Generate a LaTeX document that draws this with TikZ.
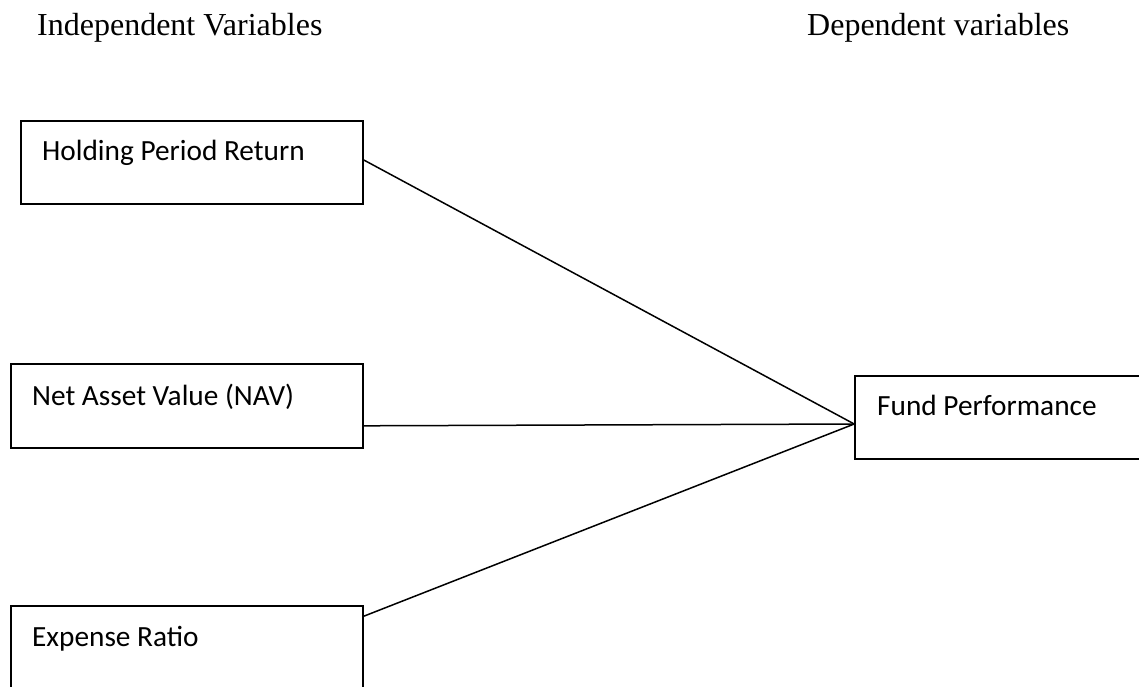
\documentclass[tikz,border=0pt]{standalone}
\usepackage{fontspec}
\setmainfont{Liberation Serif}
\newfontfamily\boxfont{Carlito}
\begin{document}
\begin{tikzpicture}[x=1pt,y=-1pt,
  box/.style={draw=black,line width=1.6pt,inner sep=0pt,minimum width=#1},
  boxtext/.style={anchor=base west,inner sep=0pt,font=\boxfont\fontsize{29.3}{35}\selectfont},
  head/.style={anchor=base west,inner sep=0pt,font=\fontsize{32}{38}\selectfont},
  link/.style={draw=black,line width=1.5pt}]
\useasboundingbox (0,0) rectangle (1139,686);
\clip (0,0) rectangle (1139,686);
\node[head] (hin) at (37,35) {Independent Variables};
\node[head] (hdep) at (807,35) {Dependent variables};
\node[box=342pt,minimum height=83pt] (hpr) at (192,162.5) {};
\node[box=352pt,minimum height=84pt] (nav) at (187,406) {};
\node[box=352pt,minimum height=130pt] (exp) at (187,671) {};
\node[box=320pt,minimum height=83pt] (fund) at (1015,417.5) {};
\node[boxtext] (thpr) at (42,160) {Holding Period Return};
\node[boxtext] (tnav) at (32,405) {Net Asset Value (NAV)};
\node[boxtext] (texp) at (32,646) {Expense Ratio};
\node[boxtext] (tfund) at (877,415) {Fund Performance};
\coordinate (conv) at ([yshift=-6.5pt]fund.west);
\draw[link] ([yshift=2.5pt]hpr.east) -- (conv);
\draw[link] ([yshift=23pt]nav.south east) -- (conv);
\draw[link] ([yshift=-11pt]exp.north east) -- (conv);
\end{tikzpicture}
\end{document}
